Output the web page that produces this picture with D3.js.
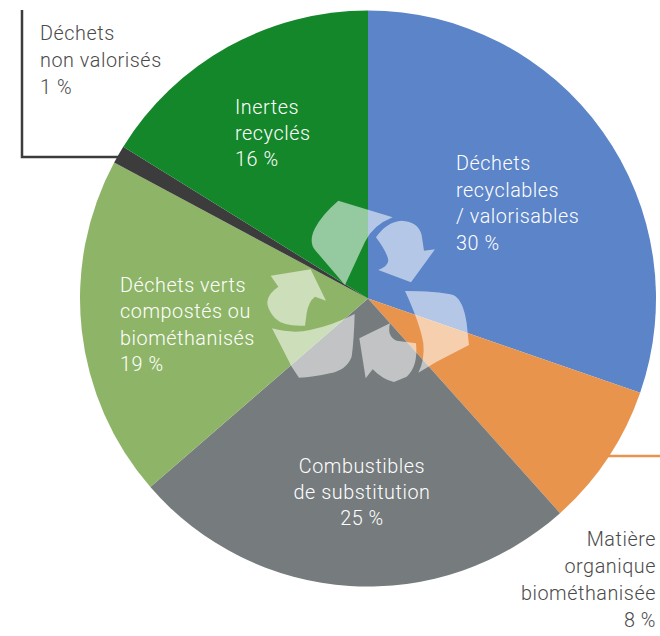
<!DOCTYPE html>
<html>
<head>
<meta charset="utf-8">
<script src="https://cdn.jsdelivr.net/npm/d3@7"></script>
<style>
  html, body { margin: 0; padding: 0; background: #fff; }
  text { font-family: Roboto, sans-serif; font-weight: 300; font-size: 19.8px; letter-spacing: 0.55px; }
</style>
</head>
<body>
<svg id="chart" width="660" height="636"></svg>
<script>
const categories = ['recyclables', 'organique', 'combustibles', 'verts', 'nonValorises', 'inertes'];
const values = [30, 8, 25, 19, 1, 16];
const colors = ['#5b84c9', '#e9944d', '#767b7d', '#8eb567', '#3c3c3c', '#14872a'];

const labelLines = [
  ['Déchets', 'recyclables', '/ valorisables', '30 %'],
  ['Matière', 'organique', 'biométhanisée', '8 %'],
  ['Combustibles', 'de substitution', '25 %'],
  ['Déchets verts', 'compostés ou', 'biométhanisés', '19 %'],
  ['Déchets', 'non valorisés', '1 %'],
  ['Inertes', 'recyclés', '16 %']
];

// label layout, same order as categories
const labelPos = [
  { x: 456, y: 170, anchor: 'start', fill: '#fff', dy: 26.6 },
  { x: 656, y: 546, anchor: 'end', fill: '#4a4a4a', dy: 27 },
  { x: 362, y: 473, anchor: 'middle', fill: '#fff', dy: 26 },
  { x: 120, y: 292, anchor: 'start', fill: '#fff', dy: 26.4 },
  { x: 40, y: 40, anchor: 'start', fill: '#4a4a4a', dy: 27 },
  { x: 235, y: 114, anchor: 'start', fill: '#fff', dy: 26 }
];

const cx = 368, cy = 298.5, radius = 288;

const svg = d3.select('#chart');

// leader lines go under the pie
svg.append('path')
  .attr('d', d3.line()([[22, 10], [22, 157], [130, 157]]))
  .attr('fill', 'none')
  .attr('stroke', '#3c3c3c')
  .attr('stroke-width', 2.5);

svg.append('path')
  .attr('d', d3.line()([[600, 456], [660, 456]]))
  .attr('fill', 'none')
  .attr('stroke', colors[1])
  .attr('stroke-width', 2.5);

const pie = d3.pie().sort(null).value(d => d.value);
const arc = d3.arc().innerRadius(0).outerRadius(radius);

const slices = categories.map((c, i) => ({ key: c, value: values[i], color: colors[i] }));

svg.append('g')
  .attr('transform', `translate(${cx},${cy})`)
  .selectAll('path')
  .data(pie(slices))
  .enter()
  .append('path')
    .attr('d', arc)
    .style('fill', d => d.data.color);

const recycleShapes = [
  'M265,62 L428,112 Q370,135 345,185 L285,315 L195,210 Q175,185 195,145 Q215,105 265,62 Z',
  'M378,172 Q410,125 455,122 Q505,125 515,165 L522,212 L555,208 L483,307 L385,270 Q415,258 415,240 Q410,215 378,172 Z',
  'M465,333 Q560,333 610,345 Q640,360 650,430 L657,495 L560,545 L505,578 Q525,540 520,490 Q510,430 465,333 Z',
  'M420,430 Q410,470 440,482 L498,490 Q505,560 470,590 L432,606 Q400,600 368,568 L347,595 L328,475 Z',
  'M66,445 Q130,462 180,450 Q250,435 314,402 Q312,480 305,530 Q290,570 240,580 Q190,592 147,593 L125,560 Z',
  'M62,287 L182,268 L228,362 L195,350 Q175,365 170,400 L165,437 Q100,440 75,415 Q50,385 52,365 Q55,340 85,320 Z'
];

svg.append('g')
  .attr('transform', 'translate(250,180) scale(0.3333)')
  .selectAll('path')
  .data(recycleShapes)
  .enter()
  .append('path')
    .attr('d', d => d)
    .attr('fill', '#fff')
    .attr('fill-opacity', 0.55);

// labels
const labels = svg.append('g')
  .selectAll('text')
  .data(labelLines)
  .enter()
  .append('text')
    .attr('text-anchor', (d, i) => labelPos[i].anchor)
    .attr('fill', (d, i) => labelPos[i].fill);

labels.each(function(lines, i) {
  const p = labelPos[i];
  d3.select(this).selectAll('tspan')
    .data(lines)
    .enter()
    .append('tspan')
      .attr('x', p.x)
      .attr('y', (l, j) => p.y + j * p.dy)
      .text(l => l);
});
</script>
</body>
</html>
